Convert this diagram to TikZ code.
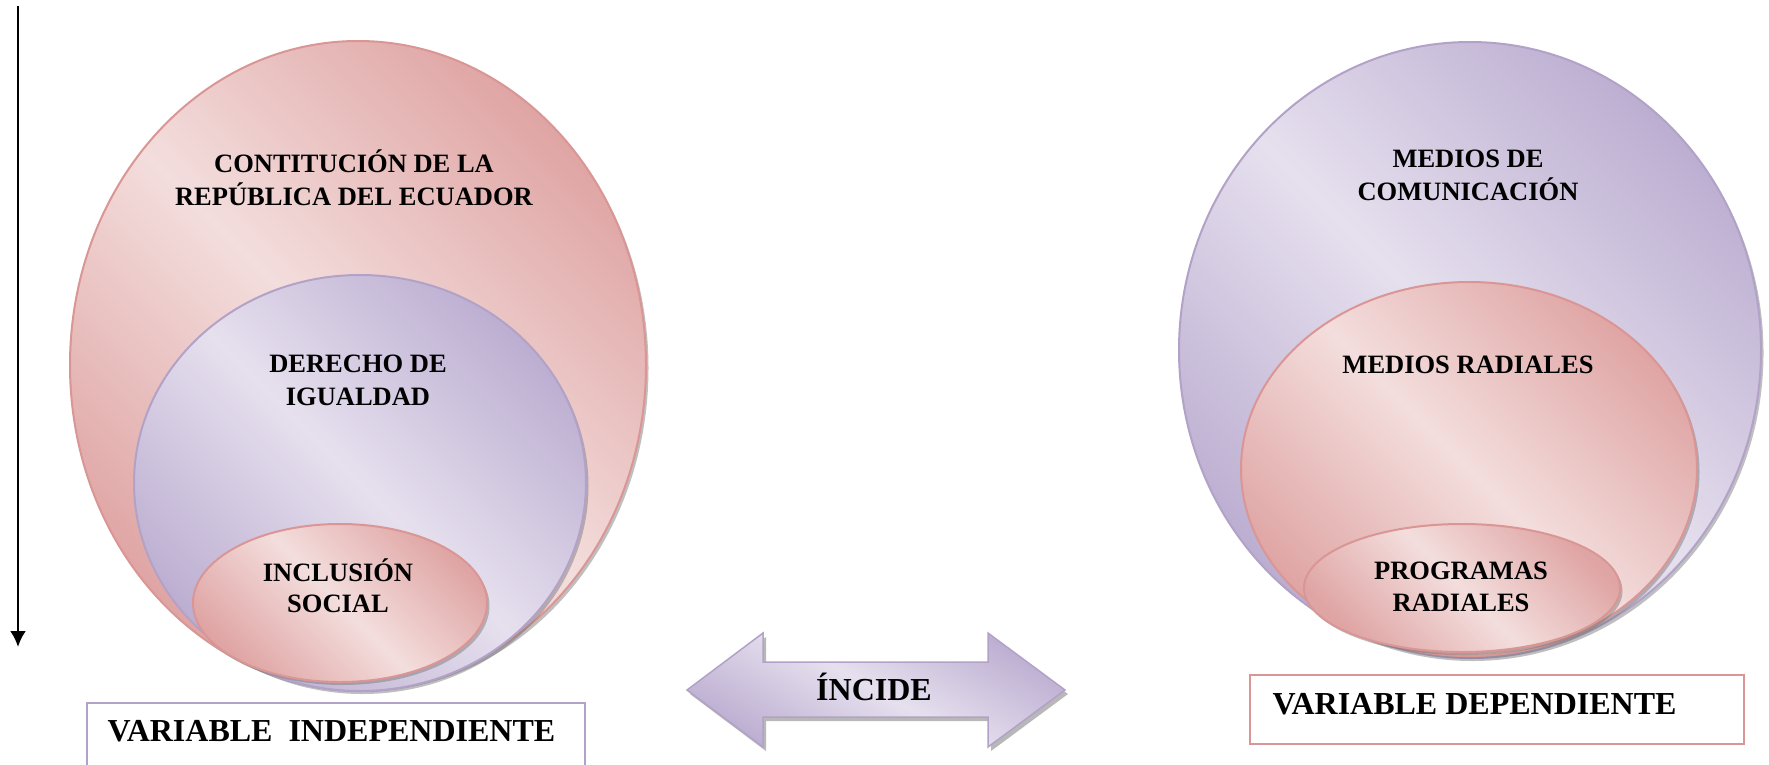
\documentclass[tikz,border=0pt]{standalone}
\usepackage{fontspec}
\setmainfont{Liberation Serif}
\usetikzlibrary{shapes.geometric,shadows,arrows.meta}
\definecolor{pinkL}{HTML}{F3DEDD}
\definecolor{pinkD}{HTML}{DFA5A4}
\definecolor{pinkLine}{HTML}{D99694}
\definecolor{lavL}{HTML}{E6E0EE}
\definecolor{lavD}{HTML}{BCAED1}
\definecolor{lavLine}{HTML}{B3A2C7}
\begin{document}
\begin{tikzpicture}[x=1pt,y=-1pt,
  shadowed/.style={drop shadow={shadow xshift=2.5pt,shadow yshift=-3pt,opacity=0.45,fill=black!55}},
  pinkell/.style={ellipse,inner sep=0pt,outer sep=0pt,draw=pinkLine,line width=2pt,
    top color=pinkD,bottom color=pinkD,middle color=pinkL,shading angle=-45,shadowed},
  lavell/.style={ellipse,inner sep=0pt,outer sep=0pt,draw=lavLine,line width=2pt,
    top color=lavD,bottom color=lavD,middle color=lavL,shading angle=-45,shadowed},
  lbl/.style={anchor=base,inner sep=0pt,font=\fontsize{26.5}{32}\selectfont\bfseries},
  biglbl/.style={anchor=base,inner sep=0pt,font=\fontsize{32}{38}\selectfont\bfseries},
  varbox/.style={rectangle,anchor=north west,inner sep=0pt,line width=2pt,fill=white},
  dblarrow/.style={draw=lavLine,line width=1.5pt,top color=lavD,bottom color=lavD,middle color=lavL,shading angle=-30,
    drop shadow={shadow xshift=3pt,shadow yshift=-4pt,opacity=0.5,fill=black!55}}
]
\useasboundingbox (0,0) rectangle (1769,764);
\fill[white] (0,0) rectangle (1769,764);

% vertical arrow
\coordinate (va1) at (18,6);
\coordinate (va2) at (18,647);
\draw[line width=2.6pt,-{Latex[length=16pt,width=16pt]}] (va1) -- (va2);

% left nested ellipses
\node[pinkell,minimum width=576pt,minimum height=648pt] (ellA) at (358,365) {};
\node[lavell,minimum width=452pt,minimum height=416pt] (ellB) at (360,483) {};
\node[pinkell,minimum width=294pt,minimum height=158pt] (ellC) at (340,603) {};

\node[lbl] (tA1) at (354,172) {CONTITUCIÓN DE LA};
\node[lbl] (tA2) at (354,205) {REPÚBLICA DEL ECUADOR};
\node[lbl] (tB1) at (358,372) {DERECHO DE};
\node[lbl] (tB2) at (358,405) {IGUALDAD};
\node[lbl] (tC1) at (338,581) {INCLUSIÓN};
\node[lbl] (tC2) at (338,612) {SOCIAL};

% right nested ellipses
\node[lavell,minimum width=582pt,minimum height=616pt] (ellD) at (1470,350) {};
\node[pinkell,minimum width=456pt,minimum height=374pt] (ellE) at (1469,469) {};
\node[pinkell,minimum width=316pt,minimum height=128pt] (ellF) at (1462,588) {};

\node[lbl] (tD1) at (1468,167) {MEDIOS DE};
\node[lbl] (tD2) at (1468,200) {COMUNICACIÓN};
\node[lbl] (tE1) at (1468,373) {MEDIOS RADIALES};
\node[lbl] (tF1) at (1461,579) {PROGRAMAS};
\node[lbl] (tF2) at (1461,611) {RADIALES};

% double arrow
\path[dblarrow] (687,690) -- (763,633) -- (763,662) -- (988,662) -- (988,633) -- (1065,690)
  -- (988,747) -- (988,717) -- (763,717) -- (763,747) -- cycle;
\node[biglbl] (inc) at (874,700.5) {ÍNCIDE};

% boxes
\node[varbox,draw=lavLine,minimum width=498pt,minimum height=76pt] (boxL) at (86,702) {};
\node[biglbl] (tL) at (331.5,741.5) {VARIABLE\ \ INDEPENDIENTE};
\node[varbox,draw=pinkLine,minimum width=494pt,minimum height=69pt] (boxR) at (1249,674) {};
\node[biglbl] (tR) at (1474.5,714.5) {VARIABLE DEPENDIENTE};
\end{tikzpicture}
\end{document}
